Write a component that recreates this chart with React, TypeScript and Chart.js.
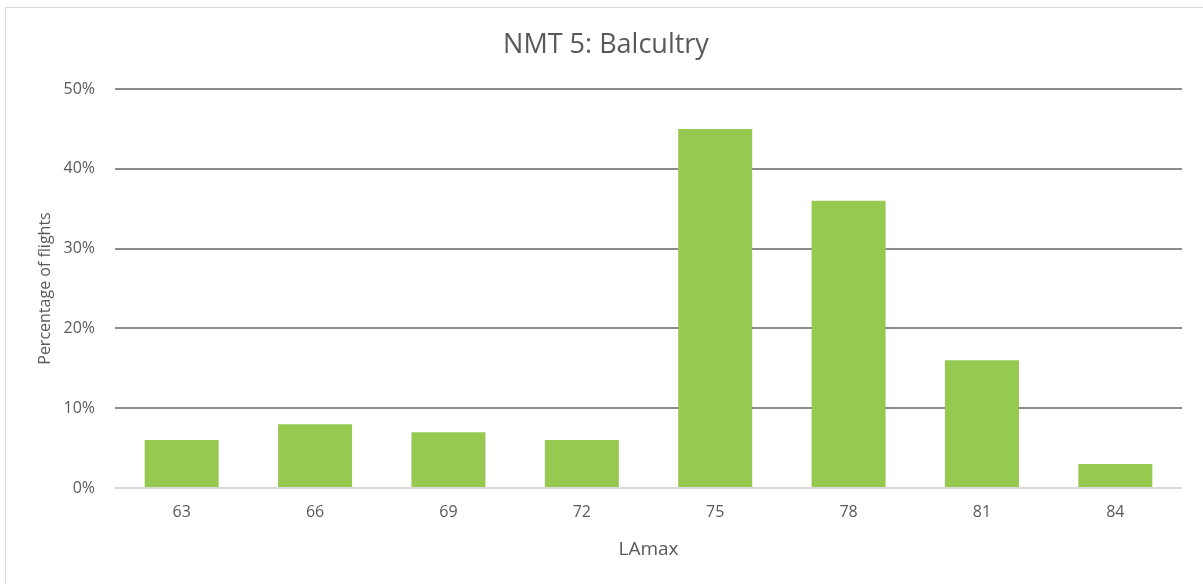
import React, { useEffect, useRef } from "react";
import { Chart, registerables } from "chart.js";

Chart.register(...registerables);

const TITLE = "NMT 5: Balcultry";
const categories = ["63", "66", "69", "72", "75", "78", "81", "84"];
const percentages = [6, 8, 7, 6, 45, 36, 16, 3];
const yTicks = [0, 10, 20, 30, 40, 50];
const X_TITLE = "LAmax";
const Y_TITLE = "Percentage of flights";

const FONT = "'Open Sans', 'Noto Sans', sans-serif";
const TEXT = "#595959";

export default function App() {
  const ref = useRef<HTMLCanvasElement | null>(null);

  useEffect(() => {
    document.body.style.margin = "0";
    const canvas = ref.current;
    if (!canvas) return;
    const chart = new Chart(canvas, {
      type: "bar",
      data: {
        labels: categories,
        datasets: [
          {
            label: "Percentage",
            data: percentages,
            backgroundColor: "#96c94f",
            borderWidth: 0,
            categoryPercentage: 1,
            barPercentage: 0.555,
          },
        ],
      },
      options: {
        animation: false,
        responsive: false,
        maintainAspectRatio: false,
        layout: { padding: { left: 30, right: 21, top: 0, bottom: 0 } },
        plugins: {
          legend: { display: false },
          tooltip: { enabled: false },
          title: {
            display: true,
            text: TITLE,
            color: TEXT,
            font: { family: FONT, size: 27, weight: "normal" },
            padding: { top: 29, bottom: 27.6 },
          },
        },
        scales: {
          x: {
            grid: { display: false, drawTicks: false },
            border: { display: false },
            ticks: {
              color: TEXT,
              font: { family: FONT, size: 16 },
              padding: 15,
            },
            title: {
              display: true,
              text: X_TITLE,
              color: TEXT,
              font: { family: FONT, size: 19 },
              padding: { top: 0, bottom: 23 },
            },
            afterFit: (scale: any) => {
              scale.height = 96;
            },
          },
          y: {
            min: 0,
            max: 50,
            afterBuildTicks: (scale: any) => {
              scale.ticks = yTicks.map((v) => ({ value: v }));
            },
            grid: {
              drawTicks: false,
              color: (ctx: any) => (ctx.tick && ctx.tick.value === 0 ? "#d9d9d9" : "#8a8a8a"),
              lineWidth: 2,
            },
            border: { display: false },
            ticks: {
              color: TEXT,
              font: { family: FONT, size: 16 },
              padding: 20,
              callback: (v: any) => v + "%",
            },
            title: {
              display: true,
              text: Y_TITLE,
              color: TEXT,
              font: { family: FONT, size: 16 },
              padding: { top: 6, bottom: 0 },
            },
            afterFit: (scale: any) => {
              scale.width = 85;
            },
          },
        },
      },
    });
    return () => chart.destroy();
  }, []);

  return (
    <div style={{ position: "relative", width: 1203, height: 584, background: "#fff", overflow: "hidden" }}>
      <div
        style={{
          position: "absolute",
          left: 5,
          top: 7,
          width: 1210,
          height: 600,
          border: "1px solid #d9d9d9",
          boxSizing: "border-box",
        }}
      />
      <canvas ref={ref} width={1203} height={584} style={{ position: "absolute", left: 0, top: 0 }} />
    </div>
  );
}
